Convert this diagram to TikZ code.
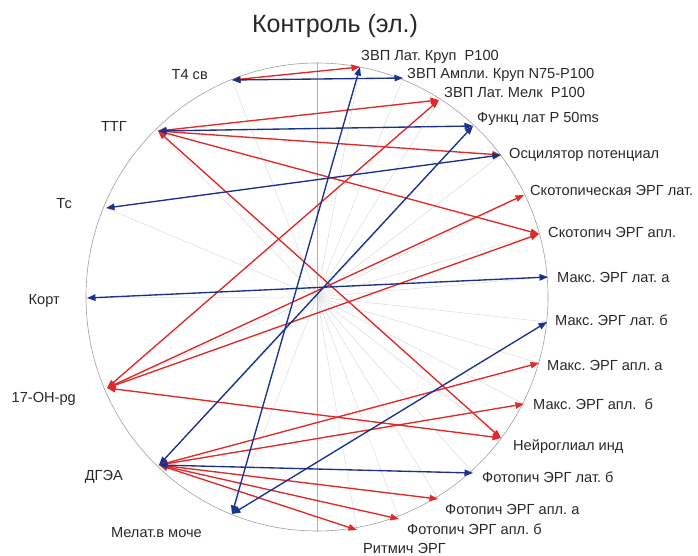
\documentclass[tikz,border=0pt]{standalone}
\usepackage{fontspec}
\setmainfont{Liberation Sans}
\usetikzlibrary{arrows.meta}
\definecolor{cred}{RGB}{224,42,42}
\definecolor{cblue}{RGB}{26,50,138}
\definecolor{ctext}{RGB}{40,40,40}
\frenchspacing
\begin{document}
\begin{tikzpicture}[x=1pt,y=-1pt,
  lab/.style={font=\fontsize{14.6}{16}\selectfont, text=ctext, inner sep=0pt, text height=10.4pt, text depth=0pt},
  rl/.style={lab, anchor=west},
  ll/.style={lab, anchor=east},
  rad/.style={draw=gray!28, line width=0.5pt},
  link/.style={line width=1.35pt, {Triangle[length=8.5pt,width=6.5pt]}-{Triangle[length=8.5pt,width=6.5pt]}},
  rlink/.style={link, draw=cred, fill=cred},
  blink/.style={link, draw=cblue, fill=cblue}]
\useasboundingbox (0,0) rectangle (698,556);
% centre and circle
\coordinate (C) at (317,297);
\coordinate (top) at (317,63);
\coordinate (bot) at (317,531);
% points on the circle
\coordinate (p1) at (360,67);
\coordinate (p2) at (403,78);
\coordinate (p3) at (439,100);
\coordinate (p4) at (473,126);
\coordinate (p5) at (501,155);
\coordinate (p6) at (524,195);
\coordinate (p7) at (539,234);
\coordinate (p8) at (548,277);
\coordinate (p9) at (547,322);
\coordinate (p10) at (539,363);
\coordinate (p11) at (524,404);
\coordinate (p12) at (501,438);
\coordinate (p13) at (473,473);
\coordinate (p14) at (438,499);
\coordinate (p15) at (399,519);
\coordinate (p16) at (357,530);
\coordinate (l1) at (232,514);
\coordinate (l2) at (159,465);
\coordinate (l3) at (107,388);
\coordinate (l4) at (87,298);
\coordinate (l5) at (106,208);
\coordinate (l6) at (158,131);
\coordinate (l7) at (232,80);
% radial guide lines
\foreach \p in {p1,p2,p3,p4,p5,p6,p7,p8,p9,p10,p11,p12,p13,p14,p15,p16,l1,l2,l3,l4,l5,l6,l7}
  \draw[rad] (C) -- (\p);
\draw[gray!60, line width=0.7pt] (top) -- (bot);
\draw[gray!75, line width=0.6pt] (C) ellipse [x radius=231pt, y radius=234pt];
% title
\node[font=\fontsize{25}{28}\selectfont, text=ctext, anchor=base, inner sep=0pt] (title) at (335,33) {Контроль (эл.)};
% labels
\node[rl] (t1) at (361,55) {ЗВП Лат. Круп~~P100};
\node[rl] (t2) at (407,73) {ЗВП Ампли. Круп N75-P100};
\node[rl] (t3) at (444,92) {ЗВП Лат. Мелк~~P100};
\node[rl] (t4) at (477,117) {Функц лат P 50ms};
\node[rl] (t5) at (509,153) {Осцилятор потенциал};
\node[rl] (t6) at (530,190) {Скотопическая ЭРГ лат.};
\node[rl] (t7) at (548,232) {Скотопич ЭРГ апл.};
\node[rl] (t8) at (557,277) {Макс. ЭРГ лат. а};
\node[rl] (t9) at (555,320) {Макс. ЭРГ лат. б};
\node[rl] (t10) at (547,365) {Макс. ЭРГ апл. а};
\node[rl] (t11) at (533,404) {Макс. ЭРГ апл.~~б};
\node[rl] (t12) at (513,445) {Нейроглиал инд};
\node[rl] (t13) at (482,477) {Фотопич ЭРГ лат. б};
\node[rl] (t14) at (445,509) {Фотопич ЭРГ апл. а};
\node[rl] (t15) at (407,529) {Фотопич ЭРГ апл. б};
\node[rl] (t16) at (363,548) {Ритмич ЭРГ};
\node[ll] (s1) at (202,532) {Мелат.в моче};
\node[ll] (s2) at (123,475) {ДГЭА};
\node[ll] (s3) at (76,397) {17-OH-pg};
\node[ll] (s4) at (60,299) {Корт};
\node[ll] (s5) at (72,203) {Тс};
\node[ll] (s6) at (127,126) {ТТГ};
\node[ll] (s7) at (208,74) {Т4 св};
% red links
\draw[rlink] (l7) -- (p1);
\draw[rlink] (l6) -- (p3);
\draw[rlink] (l6) -- (p5);
\draw[rlink] (l6) -- (p7);
\draw[rlink] (l6) -- (p12);
\draw[rlink] (l3) -- (p3);
\draw[rlink] (l3) -- (p6);
\draw[rlink] (l3) -- (p7);
\draw[rlink] (l3) -- (p12);
\draw[rlink] (l2) -- (p10);
\draw[rlink] (l2) -- (p11);
\draw[rlink] (l2) -- (p14);
\draw[rlink] (l2) -- (p15);
\draw[rlink] (l2) -- (p16);
% blue links
\draw[blink] (l7) -- (p2);
\draw[blink] (l6) -- (p4);
\draw[blink] (l5) -- (p5);
\draw[blink] (l4) -- (p8);
\draw[blink] (l2) -- (p4);
\draw[blink] (l1) -- (p1);
\draw[blink] (l1) -- (p9);
\draw[blink] (l2) -- (p13);
\end{tikzpicture}
\end{document}
